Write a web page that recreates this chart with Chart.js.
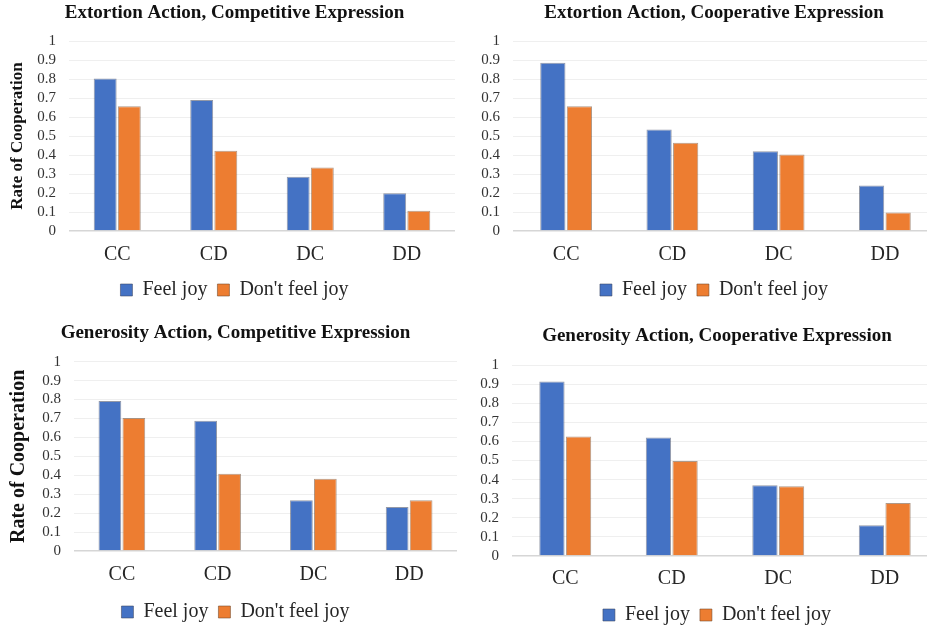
<!DOCTYPE html>
<html>
<head>
<meta charset="utf-8">
<script src="https://cdn.jsdelivr.net/npm/chart.js@4/dist/chart.umd.min.js"></script>
<style>
  html, body { margin: 0; padding: 0; background: #ffffff; overflow: hidden; }
  body { width: 927px; height: 631px; position: relative; }
  canvas { position: absolute; }
</style>
</head>
<body>
<canvas id="p1" width="470" height="310" style="left:0;top:0"></canvas>
<canvas id="p2" width="478" height="310" style="left:470px;top:0"></canvas>
<canvas id="p3" width="470" height="322" style="left:0;top:310px"></canvas>
<canvas id="p4" width="484" height="325" style="left:470px;top:310px"></canvas>
<script>
// Outcome of the previous round
const categories = ['CC', 'CD', 'DC', 'DD'];
const seriesNames = ['Feel joy', "Don't feel joy"];

// Rate of cooperation per condition
const extortionCompetitiveJoy   = [0.803, 0.690, 0.286, 0.199];
const extortionCompetitiveNoJoy = [0.657, 0.422, 0.334, 0.107];
const extortionCooperativeJoy   = [0.886, 0.534, 0.420, 0.239];
const extortionCooperativeNoJoy = [0.656, 0.464, 0.402, 0.098];
const generosityCompetitiveJoy   = [0.792, 0.688, 0.268, 0.232];
const generosityCompetitiveNoJoy = [0.702, 0.408, 0.382, 0.268];
const generosityCooperativeJoy   = [0.914, 0.621, 0.371, 0.161];
const generosityCooperativeNoJoy = [0.626, 0.498, 0.365, 0.278];

// Value axis range
const yMin = 0;
const yMax = 1;
const yStep = 0.1;

const SERIF = "'Liberation Serif', 'Times New Roman', serif";
const BLUE = '#4472C4';
const ORANGE = '#ED7D31';

function makePanel(id, title, joy, noJoy, o) {
  new Chart(document.getElementById(id), {
    type: 'bar',
    data: {
      labels: categories,
      datasets: [
        { label: seriesNames[0], data: joy, backgroundColor: BLUE,
          borderColor: 'rgba(60,70,95,0.55)', borderWidth: 1 },
        { label: seriesNames[1], data: noJoy, backgroundColor: ORANGE,
          borderColor: 'rgba(110,70,40,0.55)', borderWidth: 1 }
      ]
    },
    options: {
      responsive: false,
      devicePixelRatio: 1,
      animation: false,
      events: [],
      layout: { padding: { left: o.padL, right: o.padR, top: 0, bottom: 0 } },
      datasets: { bar: { categoryPercentage: 0.5, barPercentage: 0.95 } },
      scales: {
        x: {
          grid: { display: false, drawTicks: false },
          border: { display: false },
          ticks: { color: '#262626', padding: o.xPad, font: { family: SERIF, size: 20 } },
          afterFit: s => { s.height = o.xh; }
        },
        y: {
          min: yMin, max: yMax,
          ticks: { stepSize: yStep, autoSkip: false, color: '#333333', padding: 13,
                   font: { family: SERIF, size: 15 },
                   callback: v => String(Math.round(v * 10) / 10) },
          grid: { drawTicks: false,
                  color: c => (c.tick && c.tick.value === 0) ? '#d6d6d6' : '#efefef',
                  lineWidth: c => (c.tick && c.tick.value === 0) ? 1.5 : 1 },
          border: { display: false },
          title: { display: o.yTitle > 0, text: 'Rate of Cooperation', color: '#111111',
                   padding: { top: 7 - o.padL, bottom: 0 },
                   font: { family: SERIF, size: o.yTitle || 17, weight: 'bold' } },
          afterFit: s => { s.width = o.yw; }
        },
        // empty strip on the right so the title and legend sit centred on the panel
        rightGap: {
          type: 'linear', position: 'right', display: o.gapR > 0,
          grid: { display: false, drawTicks: false }, border: { display: false },
          ticks: { display: false },
          afterFit: s => { s.width = o.gapR; }
        }
      },
      plugins: {
        title: {
          display: true, text: title, color: '#111111',
          font: { family: SERIF, size: 19, weight: 'bold', lineHeight: 1.2 },
          padding: { top: o.tTop, bottom: o.tBot }
        },
        legend: {
          position: 'bottom',
          labels: { color: '#262626', boxWidth: 12, boxHeight: 12, padding: 10,
                    font: { family: SERIF, size: 20 } }
        },
        tooltip: { enabled: false }
      }
    }
  });
}

makePanel('p1', 'Extortion Action, Competitive Expression',
  extortionCompetitiveJoy, extortionCompetitiveNoJoy,
  { padL: 14, padR: 15, gapR: 0, yw: 55, xh: 39, xPad: 12, tTop: 1.6, tBot: 16.6, yTitle: 17 });
makePanel('p2', 'Extortion Action, Cooperative Expression',
  extortionCooperativeJoy, extortionCooperativeNoJoy,
  { padL: 10, padR: 0, gapR: 10, yw: 33, xh: 39, xPad: 12, tTop: 1.6, tBot: 16.6, yTitle: 0 });
makePanel('p3', 'Generosity Action, Competitive Expression',
  generosityCompetitiveJoy, generosityCompetitiveNoJoy,
  { padL: 14, padR: 13, gapR: 0, yw: 60, xh: 41, xPad: 12, tTop: 11.6, tBot: 17.3, yTitle: 20 });
makePanel('p4', 'Generosity Action, Cooperative Expression',
  generosityCooperativeJoy, generosityCooperativeNoJoy,
  { padL: 10, padR: 0, gapR: 16, yw: 32, xh: 39, xPad: 11, tTop: 14.6, tBot: 17.6, yTitle: 0 });
</script>
</body>
</html>
